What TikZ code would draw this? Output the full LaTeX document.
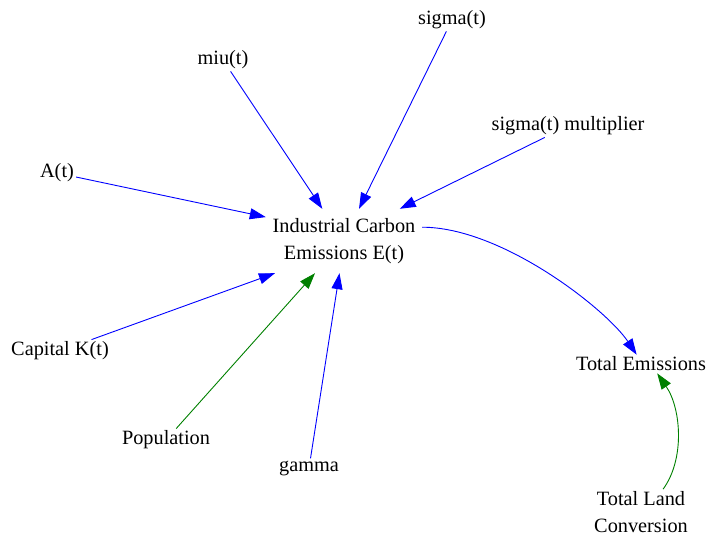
\documentclass[tikz,border=0pt]{standalone}
\usepackage{fontspec}
\setmainfont{Liberation Serif}
\usetikzlibrary{arrows.meta}
\definecolor{linkblue}{RGB}{0,0,255}
\definecolor{linkgreen}{RGB}{0,128,0}
\begin{document}
\begin{tikzpicture}[x=1pt,y=-1pt,
  var/.style={inner sep=2pt, align=center, font=\fontsize{20.3}{27}\selectfont},
  causal/.style={draw=linkblue, line width=0.9pt,
    -{Triangle[length=16pt,width=11pt,fill=linkblue]}},
  feed/.style={draw=linkgreen, line width=0.9pt,
    -{Triangle[length=16pt,width=11pt,fill=linkgreen]}}]
\useasboundingbox (0,0) rectangle (708,537);

% variables
\node[var] (sigma) at (452,20) {sigma(t)};
\node[var] (miu) at (223,60) {miu(t)};
\node[var] (sigmamult) at (568,126) {sigma(t) multiplier};
\node[var] (A) at (57,173) {A(t)};
\node[var, minimum width=156pt, minimum height=64pt] (ice) at (344,241)
  {Industrial Carbon\\Emissions E(t)};
\node[var] (K) at (60,351) {Capital K(t)};
\node[var] (te) at (641,364) {Total Emissions};
\node[var] (pop) at (166,440) {Population};
\node[var] (gamma) at (309,468) {gamma};
\node[var] (tlc) at (641,512) {Total Land\\Conversion};

% links into industrial emissions
\draw[causal] (A) -- (ice.163);
\draw[causal] (miu) -- (ice.124);
\draw[causal] (sigma) -- (ice.65);
\draw[causal] (sigmamult) -- (ice.30);
\draw[causal] (K) -- (ice.205);
\draw[feed] (pop) -- (ice.228);
\draw[causal] (gamma) -- (ice.262);

% links into total emissions
\draw[causal] (ice.10) .. controls +(80,0) and +(-30,-45) .. (te.115);
\draw[feed] (tlc.46) .. controls +(22,-30) and +(24,35) .. (te.-30);
\end{tikzpicture}
\end{document}
